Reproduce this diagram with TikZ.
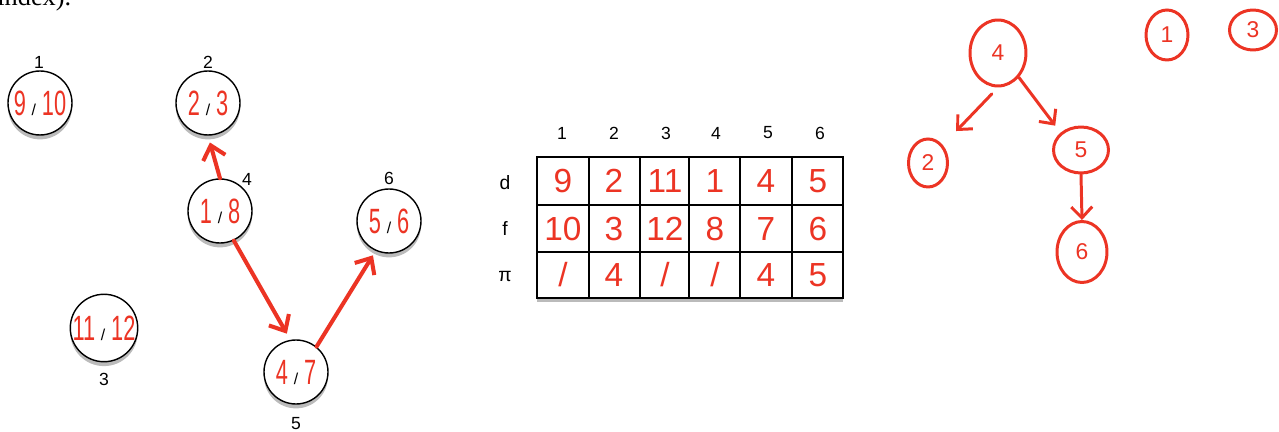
\documentclass[tikz,border=0pt]{standalone}
\usepackage{fontspec}
\setmainfont{Liberation Sans}
\newfontfamily\bookfont{Liberation Serif}
\usepackage{xcolor}
\definecolor{penred}{RGB}{236,52,36}
\definecolor{shadowgray}{RGB}{60,60,60}
\usetikzlibrary{positioning, shapes.geometric, arrows.meta, shadows}
\newcommand{\dfstime}[2]{{\color{penred}\scalebox{0.62}[1]{#1}}\,{\fontsize{9}{11}\selectfont/}\,{\color{penred}\scalebox{0.62}[1]{#2}}}
\newcommand{\nilmark}{/}

\begin{document}
\begin{tikzpicture}[
    x=0.02cm, y=-0.02cm,
    vertex/.style={circle, draw, thick, fill=white, minimum size=1.28cm, inner sep=0pt,
                   drop shadow={shadow xshift=0pt, shadow yshift=-2.5pt, opacity=0.35, fill=shadowgray},
                   font=\fontsize{20}{22}\selectfont},
    idx/.style={font=\fontsize{10}{12}\selectfont, inner sep=1pt},
    treearrow/.style={-{Straight Barb[length=2.6mm, width=4.6mm]}, penred, line width=2.3pt, line cap=round},
    cell/.style={font=\fontsize{19}{21}\selectfont, text=penred, inner sep=1pt},
    rowlab/.style={font=\fontsize{11}{13}\selectfont, inner sep=1pt},
    blob/.style={ellipse, draw=penred, line width=1.7pt, inner sep=0pt, text=penred,
                 font=\fontsize{13}{15}\selectfont},
    sketcharrow/.style={-{Straight Barb[length=2.2mm, width=4.2mm]}, penred, line width=1.7pt, line cap=round},
  ]
    \useasboundingbox (0,0) rectangle (1279,432);

    % --- Cut-off text line ---
    \node[anchor=base west, inner sep=0pt] (cuttext) at (-3,6) {\bookfont\fontsize{15}{17}\selectfont index).};

    % --- Graph with discovery / finish times ---
    \node[vertex] (v1) at (40,103)  {\dfstime{9}{10}};
    \node[vertex] (v2) at (208,103) {\dfstime{2}{3}};
    \node[vertex] (v4) at (220,211) {\dfstime{1}{8}};
    \node[vertex] (v6) at (389,221) {\dfstime{5}{6}};
    \node[vertex] (v3) at (104,328) {\dfstime{11}{12}};
    \node[vertex] (v5) at (296,372) {\dfstime{4}{7}};

    \node[idx] (l1) at (39,62)   {1};
    \node[idx] (l2) at (208,62)  {2};
    \node[idx] (l4) at (247,179) {4};
    \node[idx] (l6) at (389,178) {6};
    \node[idx] (l3) at (104,379) {3};
    \node[idx] (l5) at (296,424) {5};

    \draw[treearrow, shorten >=4pt] (v4.north) -- (v2.south);
    \draw[treearrow, shorten >=4pt] (v4.-65) -- (v5.100);
    \draw[treearrow, shorten >=3pt] (v5.51) -- (v6.246);

    % --- Table d / f / pi ---
    \filldraw[thick, fill=white, drop shadow={shadow xshift=0pt, shadow yshift=-2.5pt, opacity=0.35, fill=shadowgray}]
      (537,157) rectangle (843,298);
    \foreach \x in {589,640,689,740,792} {
      \draw[thick] (\x,157) -- (\x,298);
    }
    \foreach \y in {205,252} {
      \draw[thick] (537,\y) -- (843,\y);
    }

    \node[rowlab] (rd) at (505,183) {d};
    \node[rowlab] (rf) at (505,229) {f};
    \node[rowlab] (rp) at (505,276) {π};

    \foreach \i/\hx/\cx/\d/\f/\p in {1/562/563/9/10/\nilmark, 2/614/614/2/3/4, 3/666/665/11/12/\nilmark,
                                     4/716/715/1/8/\nilmark, 5/768/766/4/7/4, 6/820/818/5/6/5} {
      \node[idx] (h\i) at (\hx,133) {\i};
      \node[cell] (d\i) at (\cx,181) {\d};
      \node[cell] (f\i) at (\cx,229) {\f};
      \node[cell] (p\i) at (\cx,275) {\p};
    }

    % --- Sketched DFS forest ---
    \node[blob, minimum width=1.12cm, minimum height=1.32cm] (t4) at (998,53)   {4};
    \node[blob, minimum width=0.78cm, minimum height=0.96cm] (t2) at (928,163)  {2};
    \node[blob, minimum width=1.1cm,  minimum height=0.92cm] (t5) at (1081,150) {5};
    \node[blob, minimum width=1.0cm,  minimum height=1.22cm] (t6) at (1082,252) {6};
    \node[blob, minimum width=0.84cm, minimum height=1.0cm]  (t1) at (1167,35)  {1};
    \node[blob, minimum width=0.94cm, minimum height=0.8cm]  (t3) at (1253,30)  {3};

    \draw[sketcharrow, shorten <=5pt, shorten >=11pt] (t4.south) -- (t2.north east);
    \draw[sketcharrow, shorten >=5pt] (t4.south east) -- (t5.north west);
    \draw[sketcharrow] (t5.south) -- (t6.north);
  \end{tikzpicture}
\end{document}
